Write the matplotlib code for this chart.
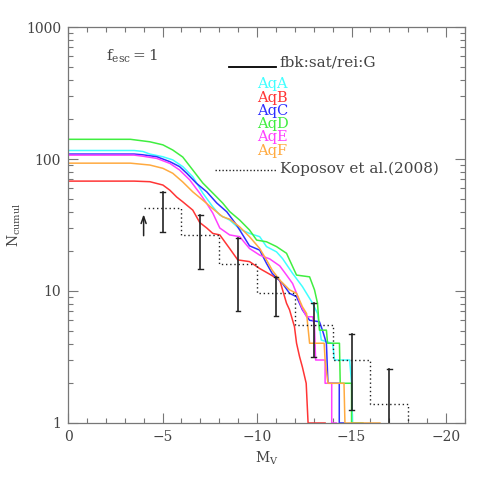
# plot.py
# Cumulative satellite luminosity function, Aquarius haloes vs Koposov et al. (2008)

import numpy as np
import matplotlib
matplotlib.use("Agg")
import matplotlib.pyplot as plt
from matplotlib.ticker import MultipleLocator, LogLocator, NullFormatter, FixedLocator

plt.rcParams["font.family"] = ["DejaVu Serif"]
plt.rcParams["mathtext.fontset"] = "dejavuserif"

TXT = "#444444"

# --- model curves (M_V, N_cumul) ---
aqa_m = [0, -3.5, -3.96, -4.33, -5.02, -5.54, -6.07, -6.6, -7.13, -7.66, -8.03, -8.55, -9.08, -9.6, -10.14,
         -10.5, -11.03, -11.35, -11.88, -12.4, -12.94, -13.2, -13.4, -14.0, -14.1, -14.9, -15.0, -15.05, -15.5]
aqa_n = [116, 116, 114, 109, 104, 98.5, 87.6, 73.4, 55.2, 43.4, 37.6, 34.5, 29.5, 27.3, 25.8,
         21.7, 19.8, 17.6, 13.6, 10.8, 8.07, 6.76, 4.25, 4.0, 3.0, 3.0, 2.0, 1.0, 1.0]

aqb_m = [0, -3.5, -4.33, -5.02, -5.39, -5.75, -6.07, -6.6, -6.97, -7.34, -7.66, -8.03, -8.55, -8.98, -9.6,
         -10.14, -10.67, -11.2, -11.35, -11.56, -11.72, -11.98, -12.09, -12.25, -12.4, -12.6, -12.7, -13.6]
aqb_n = [68, 68, 67.3, 63.5, 58, 51.5, 47.4, 41, 33, 30, 27.3, 26.6, 21, 17.2, 16.7,
         14.8, 13.4, 12.1, 10.2, 8.07, 7.2, 5.36, 4.02, 3.18, 2.65, 2.0, 1.0, 1.0]

aqc_m = [0, -3.5, -3.96, -4.7, -5.39, -5.9, -6.28, -6.8, -7.34, -7.87, -8.4, -8.92, -9.6, -10.14, -10.5,
         -10.8, -11.35, -11.72, -12.09, -12.4, -12.78, -13.3, -13.46, -13.67, -13.75, -14.35, -14.35, -14.6]
aqc_n = [109, 109, 107.6, 104, 95.4, 87.6, 78, 65.4, 56.4, 46.4, 39.8, 31.6, 22, 20.4, 16.2,
         13.6, 11.4, 9.6, 9.05, 7.2, 6.0, 5.85, 5.05, 4.02, 2.0, 2.0, 1.0, 1.0]

aqd_m = [0, -3.3, -4.33, -5.02, -5.54, -6.07, -6.6, -7.13, -7.66, -8.18, -8.55, -9.08, -9.6, -9.98, -10.5,
         -11.03, -11.56, -11.72, -12.09, -12.78, -13.04, -13.2, -13.3, -13.67, -13.73, -14.36, -14.4,
         -15.0, -15.0, -15.6]
aqd_n = [141, 141, 135, 128, 117, 103.5, 82.6, 65.8, 55.2, 46.4, 40, 34.5, 29, 24.3, 23.6,
         21.7, 19.3, 17.2, 13.2, 12.8, 10.2, 8.07, 5.05, 5.05, 4.02, 4.02, 2.0,
         2.0, 1.0, 1.0]

aqe_m = [0, -3.5, -3.96, -4.7, -5.39, -5.9, -6.44, -6.97, -7.34, -7.66, -8.03, -8.55, -9.08, -9.6, -10.14,
         -10.67, -11.2, -11.56, -11.88, -12.09, -12.35, -12.62, -12.94, -13.04, -13.1, -13.6, -13.6,
         -13.95, -13.95, -14.2]
aqe_n = [107, 107, 105, 101, 92.6, 82.6, 69.4, 55, 46, 38.9, 30, 26.6, 25.8, 21, 18.7,
         17.5, 15.5, 13.2, 11.4, 9.6, 7.6, 6.38, 6.38, 5.36, 3.0, 3.0, 2.0,
         2.0, 1.0, 1.0]

aqf_m = [0, -3.3, -4.33, -5.02, -5.54, -6.07, -6.6, -7.13, -7.66, -8.18, -8.55, -9.08, -9.6, -10.14, -10.5,
         -10.8, -11.2, -11.72, -12.09, -12.4, -12.62, -12.78, -13.55, -13.6, -13.75, -14.6, -14.65, -16.5]
aqf_n = [93, 93, 90, 85, 78, 67, 56.4, 48.8, 42, 36.5, 35, 30.6, 25.8, 21, 17.2,
         14.4, 12.1, 10.2, 9.6, 7.6, 6.76, 4.02, 4.02, 3.0, 2.0, 2.0, 1.0, 1.0]

curves = [
    ("AqA", aqa_m, aqa_n, "#40ffff"),
    ("AqB", aqb_m, aqb_n, "#ff3535"),
    ("AqC", aqc_m, aqc_n, "#3030ff"),
    ("AqD", aqd_m, aqd_n, "#40ee40"),
    ("AqE", aqe_m, aqe_n, "#ff40ff"),
    ("AqF", aqf_m, aqf_n, "#ffaa40"),
]

# --- Koposov et al. (2008) histogram + error bars ---
kop_edges = [-4, -6, -8, -10, -12, -14, -16, -18]
kop_n = [42.5, 26.6, 16.0, 9.6, 5.5, 3.0, 1.39]
err_m = [-5, -7, -9, -11, -13, -15, -17]
err_lo = [28.0, 14.6, 7.05, 6.5, 3.18, 1.25, 0.8]
err_hi = [56.0, 37.7, 25.2, 12.8, 8.07, 4.72, 2.56]

x_ticks = [0, -5, -10, -15, -20]
y_ticks = [1, 10, 100, 1000]

fig = plt.figure(figsize=(4.91, 4.91), dpi=100)
ax = fig.add_axes([0.1385, 0.1385, 0.8085, 0.8065])

for name, m, n, c in curves:
    ax.plot(m, n, color=c, lw=1.1)

# dotted step histogram
step_x = []
step_y = []
for i in range(len(kop_n)):
    step_x += [kop_edges[i], kop_edges[i + 1]]
    step_y += [kop_n[i], kop_n[i]]
step_x += [kop_edges[-1]]
step_y += [0.9]
ax.plot(step_x, step_y, color="#222222", lw=1.0, ls=(0, (1, 2)))

for m, lo, hi in zip(err_m, err_lo, err_hi):
    ax.plot([m, m], [lo, hi], color="#222222", lw=1.2)
    for v in (lo, hi):
        ax.plot([m - 0.12, m + 0.12], [v, v], color="#222222", lw=1.0)

# upper-limit arrow
ax.annotate("", xy=(-4.0, 40), xytext=(-4.0, 25),
            arrowprops=dict(arrowstyle="->,head_length=0.5,head_width=0.18",
                            color="#222222", lw=1.1))

ax.set_yscale("log")
ax.set_xlim(0, -21)
ax.set_ylim(1, 1000)

ax.xaxis.set_major_locator(FixedLocator(x_ticks))
ax.xaxis.set_minor_locator(MultipleLocator(1))
ax.yaxis.set_major_locator(FixedLocator(y_ticks))
ax.yaxis.set_minor_locator(LogLocator(base=10, subs=np.arange(2, 10)))
ax.yaxis.set_minor_formatter(NullFormatter())
ax.set_yticklabels([str(v) for v in y_ticks])
ax.set_xticklabels([str(v).replace("-", "\u2212") for v in x_ticks])

ax.tick_params(which="both", direction="in", top=True, right=True,
               color="#777777", labelcolor=TXT, labelsize=10, width=0.8)
ax.tick_params(which="major", length=7.5, pad=5)
ax.tick_params(which="minor", length=3.8)
for s in ax.spines.values():
    s.set_color("#777777")
    s.set_linewidth(0.9)

ax.set_xlabel(r"$\mathregular{M_V}$", color=TXT, fontsize=10, labelpad=4)
ax.set_ylabel(r"$\mathregular{N_{cumul}}$", color=TXT, fontsize=10, labelpad=2)

# annotations / legend drawn as text
ax.text(0.095, 0.925, r"$\mathregular{f_{esc}=1}$", transform=ax.transAxes,
        color=TXT, fontsize=11, va="center")
ax.plot([0.405, 0.523], [0.899, 0.899], transform=ax.transAxes, color="black", lw=1.3)
ax.text(0.533, 0.911, "fbk:sat/rei:G", transform=ax.transAxes, color=TXT,
        fontsize=11, va="center")
for k, (name, m, n, c) in enumerate(curves):
    ax.text(0.477, 0.855 - k * 0.0335, name, transform=ax.transAxes, color=c,
            fontsize=10.5, va="center")
ax.plot([0.37, 0.523], [0.638, 0.638], transform=ax.transAxes, color="#222222",
        lw=1.0, ls=(0, (1, 1.5)))
ax.text(0.533, 0.643, "Koposov et al.(2008)", transform=ax.transAxes, color=TXT,
        fontsize=11, va="center")

fig.savefig("out.png", dpi=100)
